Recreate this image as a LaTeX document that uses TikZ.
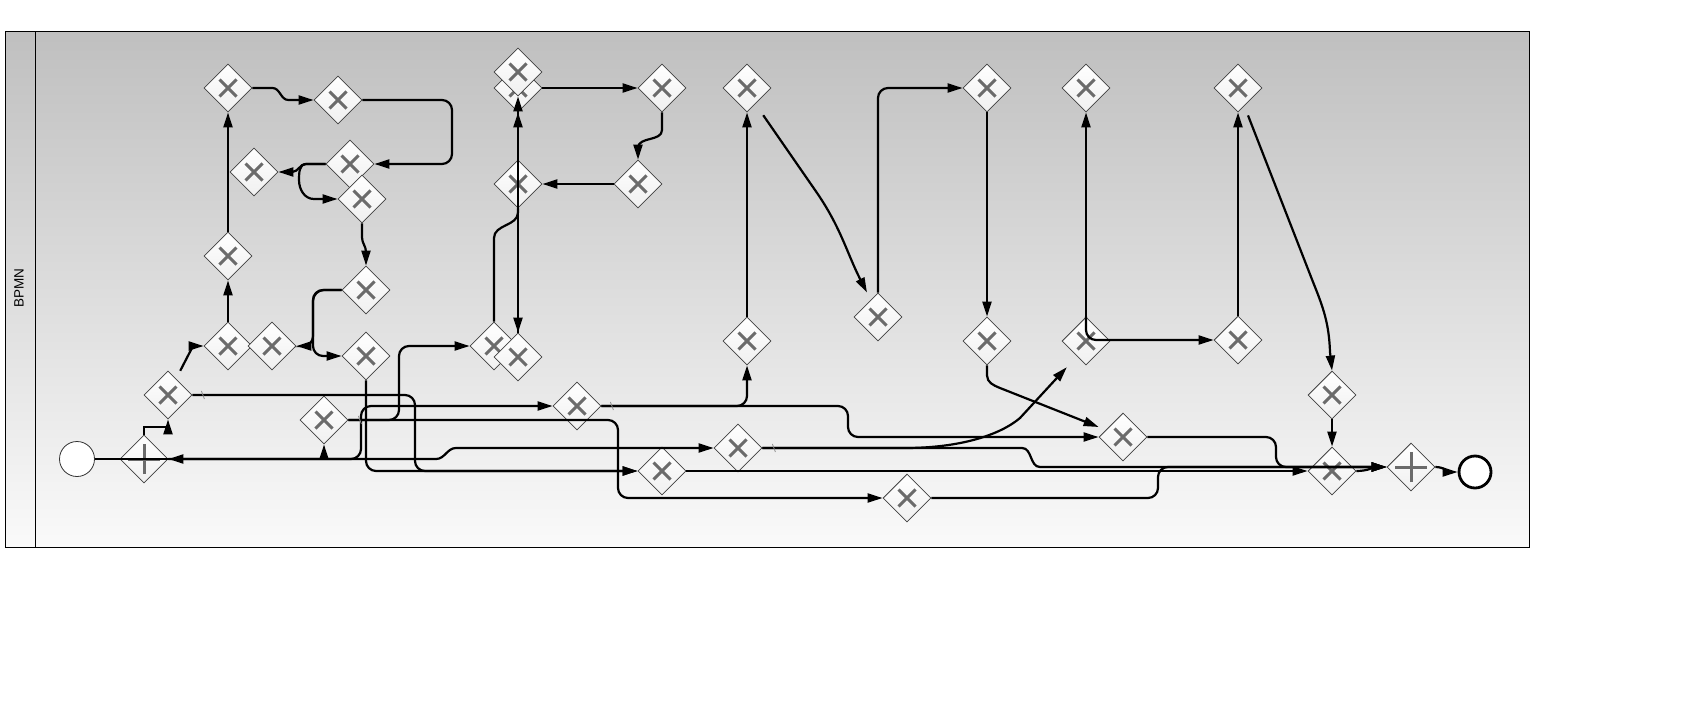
\documentclass[tikz,border=0pt]{standalone}
\usepackage{fontspec}
\setsansfont{Liberation Sans}
\usetikzlibrary{shapes.geometric, arrows.meta, calc}

\begin{document}
\begin{tikzpicture}[
    x=1pt, y=-1pt,
    gate/.style = {diamond, aspect=1, draw=black!75, line width=0.8pt, top color=white, bottom color=black!6, minimum width=48pt, minimum height=48pt, inner sep=0pt},
    xgate/.style = {gate, path picture={\draw[line width=3pt, black!58] ([shift={(-8.5pt,-8.5pt)}]path picture bounding box.center) -- ([shift={(8.5pt,8.5pt)}]path picture bounding box.center) ([shift={(-8.5pt,8.5pt)}]path picture bounding box.center) -- ([shift={(8.5pt,-8.5pt)}]path picture bounding box.center);}},
    pgate/.style = {gate, path picture={\draw[line width=3pt, black!58] ([yshift=-15pt]path picture bounding box.center) -- ([yshift=15pt]path picture bounding box.center) ([xshift=-16pt]path picture bounding box.center) -- ([xshift=16pt]path picture bounding box.center);}},
    startev/.style = {circle, draw=black!80, line width=0.8pt, fill=white, minimum size=35pt, inner sep=0pt},
    endev/.style = {circle, draw=black, line width=2.8pt, fill=white, minimum size=32pt, inner sep=0pt},
    flow/.style = {draw=black, line width=2.2pt, -{Triangle[length=15pt,width=9pt]}},
    flowboth/.style = {flow, {Triangle[length=15pt,width=9pt]}-{Triangle[length=15pt,width=9pt]}},
    link/.style = {draw=black, line width=2.2pt},
    ortho/.style = {rounded corners=10pt},
    defmark/.style = {draw=black!45, line width=0.8pt}
]

% Pool and lane
\useasboundingbox (0, 0) rectangle (1686, 704);
\shade [top color=black!25, bottom color=black!2] (5, 31) rectangle (1529, 547);
\draw [line width=1pt] (5, 31) rectangle (1529, 547);
\draw [line width=1pt] (35, 31) -- (35, 547);
\node (lane) [rotate=90, font=\sffamily\fontsize{13.5}{16}\selectfont] at (19, 288) {BPMN};

% Column 1
\node (start) [startev] at (77, 459) {};
\node (p1) [pgate] at (144, 459) {};
\node (g1) [xgate] at (168, 395) {};

% Column 2
\node (g2) [xgate] at (228, 88) {};
\node (g3) [xgate] at (254, 172) {};
\node (g4) [xgate] at (228, 256) {};
\node (g5) [xgate] at (228, 346) {};
\node (g6) [xgate] at (272, 346) {};

% Column 3
\node (g7) [xgate] at (338, 100) {};
\node (g8) [xgate] at (350, 164) {};
\node (g9) [xgate] at (362, 199) {};
\node (g10) [xgate] at (366, 290) {};
\node (g11) [xgate] at (366, 356) {};
\node (g12) [xgate] at (324, 420) {};

% Column 4
\node (g13) [xgate] at (518, 88) {};
\node (g14) [xgate] at (518, 72) {};
\node (g15) [xgate] at (518, 184) {};
\node (g16) [xgate] at (494, 346) {};
\node (g17) [xgate] at (518, 357) {};

% Column 5
\node (g18) [xgate] at (577, 406) {};
\node (g19) [xgate] at (662, 88) {};
\node (g20) [xgate] at (638, 184) {};
\node (g21) [xgate] at (662, 471) {};

% Column 6
\node (g22) [xgate] at (747, 88) {};
\node (g23) [xgate] at (747, 341) {};
\node (g24) [xgate] at (738, 448) {};

% Column 7
\node (g25) [xgate] at (878, 317) {};
\node (g26) [xgate] at (907, 498) {};

% Column 8
\node (g27) [xgate] at (987, 88) {};
\node (g28) [xgate] at (987, 341) {};

% Column 9
\node (g29) [xgate] at (1086, 88) {};
\node (g30) [xgate] at (1086, 341) {};
\node (g31) [xgate] at (1123, 437) {};

% Column 10
\node (g32) [xgate] at (1238, 88) {};
\node (g33) [xgate] at (1238, 340) {};

% Column 11
\node (g34) [xgate] at (1332, 395) {};
\node (g35) [xgate] at (1332, 471) {};
\node (p2) [pgate] at (1411, 467) {};
\node (stop) [endev] at (1475, 472) {};

% Arrows
\draw [link] (start) -- (p1.east);
\draw [flow] (p1.east) -| (g12.south);
\draw [flow, ortho] (p1.east) -| (361, 406) -- (g18.west);
\draw [flowboth] (p1.east) -- (436, 459) to[out=0, in=180] (456, 448) -- (g24.west);
\draw [flow] (p1.north) -- ++(0, -8) -| (g1.south);
\draw [flow] ([yshift=12pt]g1.north east) -- (193, 346) -- (g5.west);
\draw [flow, ortho] (g1.east) -| (415, 471) -- (g21.west);
\draw [defmark] ($(g1.east)+(9, -4)$) -- ++(3, 8);

\draw [flow] (g5) -- (g4);
\draw [flow] (g4) -- (g2);
\draw [flow] (g2.east) -- ++(20, 0) to[out=0, in=180] ++(16, 12) -- (g7.west);
\draw [flow, ortho] (g7.east) -- (452, 100) |- (g8.east);
\draw [flow] (g8.west) -- (306, 164) to[out=180, in=0] (292, 172) -- (g3.east);
\draw [flow] (g8.west) -- (306, 164) to[out=180, in=90] (299, 180) to[out=-90, in=180] (314, 199) -- (g9.west);
\draw [flow] (g9.south) -- ++(0, 14) to[out=-90, in=90] (366, 252) -- (g10.north);
\draw [flow] (g10.west) -- (324, 290) to[out=180, in=90] (313, 301) -- (313, 336) to[out=-90, in=0] (304, 346) -- (g6.east);
\draw [flow, ortho] (g10.west) -| (313, 356) -- (g11.west);
\draw [flow, ortho] (g11.south) |- (g21.west);
\draw [flow, ortho] (g12.east) -| (399, 346) -- (g16.west);
\draw [flow, ortho] (g12.east) -| (618, 498) -- (g26.west);
\draw [defmark] ($(g12.east)+(10, -4)$) -- ++(3, 8);

\draw [link] (g15.south) -- ++(0, 4) to[out=-90, in=90] (494, 238) -- (g16.north);
\draw [flow] (g15.south) -- (g17.north);
\draw [flow] (g17.north) -- (g14.south);
\draw [flow] (g15.north) -- (g13.south);
\draw [flow] (g13.east) -- (g19.west);
\draw [flow] (g19.south) -- (662, 130) to[out=-90, in=90] (638, 148) -- (g20.north);
\draw [flow] (g20) -- (g15);

\draw [flow] (g23) -- (g22);
\draw [flow] ([shift={(4pt,-15pt)}]g22.south east) -- (815, 190) to[out=-55, in=117] ([xshift=-11pt]g25.north);
\draw [flow, ortho] (g25.north) |- (g27.west);
\draw [flow] (g27) -- (g28);
\draw [flow] (g28.south) -- ++(0, 10) to[out=-90, in=158] (1000, 388) -- ([yshift=10pt]g31.west);
\draw [flow, ortho] (g18.east) -| (g23.south);
\draw [flow, ortho] (g18.east) -- (848, 406) |- (g31.west);
\draw [defmark] ($(g18.east)+(9, -4)$) -- ++(3, 8);
\draw [flow] (g24.east) -- (905, 448) .. controls (960, 448) and (1000, 435) .. (1020, 418) -- ([shift={(-7pt,-14pt)}]g30.south west);
\draw [flow] (g24.east) -- (1022, 448) to[out=0, in=180] (1040, 467) -- (p2.west);
\draw [defmark] ($(g24.east)+(10, -4)$) -- ++(3, 8);

\draw [flow] (g21) -- (g35);
\draw [flow, ortho] (g31.east) -| (1276, 467) -- (p2.west);
\draw [flow, ortho] (g26.east) -| (1158, 467) -- (p2.west);
\draw [flow] (g30.north) -- (g29.south);
\draw [flow, ortho] (g30.north) |- (g33.west);
\draw [flow] (g33) -- (g32);
\draw [flow] ([shift={(10pt,-3pt)}]g32.south) -- (1313, 282) to[out=-68, in=92] (1330, 352) -- (g34.north);
\draw [flow] (g34) -- (g35);
\draw [flow] (g35.east) to[out=0, in=180] (p2.west);
\draw [flow] (p2.east) to[out=0, in=180] (stop.west);

\end{tikzpicture}
\end{document}
